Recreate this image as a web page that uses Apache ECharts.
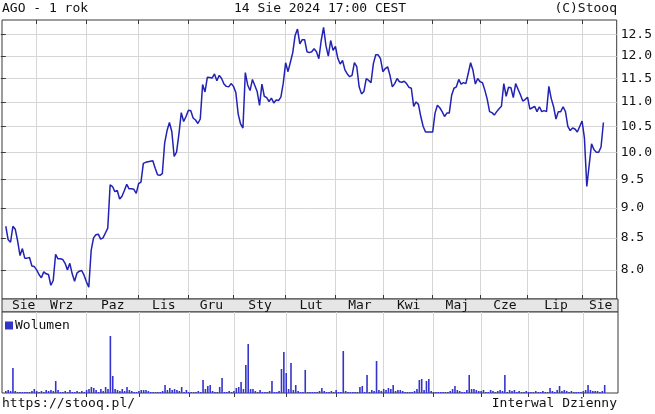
<!DOCTYPE html>
<html>
<head>
<meta charset="utf-8">
<script src="https://cdn.jsdelivr.net/npm/echarts@6/dist/echarts.min.js"></script>
<style>html,body{margin:0;padding:0;background:#fff}#c{width:655px;height:414px}</style>
</head>
<body>
<div id="c"></div>
<script>
// Month boundaries (trading-day index of the first session of each month)
const monthStarts = [13, 34, 56, 77, 96, 118, 139, 159, 180, 200, 220, 243];
const monthNames = ['Sie', 'Wrz', 'Paz', 'Lis', 'Gru', 'Sty', 'Lut', 'Mar', 'Kwi', 'Maj', 'Cze', 'Lip', 'Sie'];
const priceTicks = [8.0, 8.5, 9.0, 9.5, 10.0, 10.5, 11.0, 11.5, 12.0, 12.5];

// Daily close, AGO, 14 Aug 2023 .. 14 Aug 2024
const prices = [
  8.69, 8.47, 8.43, 8.69, 8.64, 8.45, 8.22, 8.33, 8.18, 8.18,
  8.19, 8.06, 8.05, 8.00, 7.93, 7.88, 7.97, 7.94, 7.93, 7.77,
  7.84, 8.24, 8.17, 8.17, 8.16, 8.10, 8.00, 8.10, 7.94, 7.83,
  7.95, 7.98, 7.99, 7.92, 7.82, 7.74, 8.30, 8.50, 8.55, 8.56,
  8.48, 8.50, 8.58, 8.66, 9.40, 9.37, 9.28, 9.30, 9.15, 9.20,
  9.30, 9.41, 9.33, 9.33, 9.32, 9.25, 9.42, 9.45, 9.79, 9.81,
  9.82, 9.83, 9.84, 9.70, 9.58, 9.57, 9.60, 10.18, 10.42, 10.58,
  10.40, 9.92, 10.00, 10.35, 10.78, 10.60, 10.70, 10.83, 10.82, 10.67,
  10.63, 10.56, 10.65, 11.37, 11.21, 11.53, 11.52, 11.51, 11.60, 11.45,
  11.57, 11.50, 11.38, 11.33, 11.32, 11.39, 11.33, 11.20, 10.75, 10.55,
  10.47, 11.63, 11.36, 11.24, 11.48, 11.35, 11.22, 10.93, 11.38, 11.12,
  11.09, 11.01, 11.08, 10.98, 11.04, 11.03, 11.10, 11.40, 11.85, 11.65,
  11.86, 12.08, 12.48, 12.63, 12.28, 12.38, 12.38, 12.10, 12.08, 12.10,
  12.17, 12.10, 11.94, 12.36, 12.67, 12.24, 12.00, 12.36, 12.13, 12.22,
  11.95, 11.82, 11.90, 11.69, 11.60, 11.54, 11.57, 11.85, 11.76, 11.32,
  11.17, 11.22, 11.50, 11.46, 11.41, 11.83, 12.03, 12.03, 11.94, 11.65,
  11.72, 11.76, 11.57, 11.32, 11.39, 11.50, 11.43, 11.42, 11.44, 11.39,
  11.31, 11.29, 10.91, 11.00, 10.95, 10.70, 10.50, 10.39, 10.39, 10.39,
  10.39, 10.77, 10.93, 10.88, 10.80, 10.70, 10.77, 10.77, 11.14, 11.29,
  11.32, 11.48, 11.38, 11.41, 11.39, 11.61, 11.85, 11.68, 11.38, 11.50,
  11.43, 11.41, 11.25, 11.06, 10.80, 10.78, 10.73, 10.80, 10.86, 10.91,
  11.39, 11.12, 11.31, 11.30, 11.09, 11.39, 11.27, 11.15, 11.02, 11.05,
  11.10, 10.85, 10.88, 10.91, 10.80, 10.90, 10.80, 10.82, 10.80, 11.33,
  11.07, 10.90, 10.65, 10.80, 10.80, 10.90, 10.80, 10.50, 10.42, 10.47,
  10.45, 10.39, 10.50, 10.61, 10.27, 9.37, 9.76, 10.16, 10.05, 10.00,
  10.00, 10.10, 10.58
];

// Daily volume (relative units)
const volumes = [
  2, 3, 2, 25, 2, 1, 1, 1, 1, 1,
  1, 2, 4, 2, 1, 2, 1, 3, 2, 3,
  2, 12, 3, 1, 1, 2, 1, 3, 1, 1,
  2, 1, 2, 1, 3, 4, 6, 5, 3, 1,
  4, 2, 6, 4, 57, 17, 4, 3, 2, 4,
  2, 6, 3, 2, 1, 1, 2, 3, 3, 3,
  2, 1, 1, 1, 1, 1, 2, 8, 3, 5,
  3, 4, 3, 2, 6, 1, 3, 1, 1, 1,
  1, 2, 1, 13, 4, 7, 8, 2, 1, 1,
  6, 15, 1, 1, 2, 1, 2, 5, 6, 11,
  4, 28, 49, 4, 4, 2, 1, 3, 1, 1,
  1, 2, 12, 1, 1, 2, 24, 41, 20, 4,
  30, 3, 8, 2, 1, 1, 23, 1, 1, 1,
  1, 1, 2, 5, 2, 1, 1, 2, 1, 3,
  1, 1, 42, 2, 1, 1, 1, 1, 1, 6,
  7, 1, 18, 1, 3, 2, 32, 3, 2, 4,
  3, 5, 4, 8, 2, 3, 3, 2, 1, 1,
  1, 1, 2, 4, 13, 14, 3, 12, 14, 2,
  1, 1, 1, 1, 1, 1, 1, 2, 4, 7,
  3, 2, 1, 1, 3, 18, 4, 4, 3, 2,
  2, 3, 1, 1, 3, 2, 1, 2, 3, 2,
  18, 1, 3, 2, 3, 1, 2, 1, 1, 2,
  1, 1, 1, 2, 1, 1, 2, 1, 1, 5,
  2, 1, 3, 7, 2, 3, 2, 1, 2, 1,
  1, 1, 1, 2, 3, 8, 3, 2, 2, 2,
  1, 2, 8
];

const X_MIN = -1.6, X_MAX = 257.6;
const FIRST_LABEL_FROM = 2; // first full session after the 15 Aug holiday
const monthMids = [];
{
  const b = [FIRST_LABEL_FROM].concat(monthStarts, [X_MAX]);
  for (let k = 0; k < b.length - 1; k++) monthMids.push((b[k] + b[k + 1]) / 2);
}

const FONT = 'DejaVu Sans Mono';
const GRID_COLOR = '#d6d6d6';
const BORDER = '#3a3a3a';

const chart = echarts.init(document.getElementById('c'), null, {renderer: 'canvas'});

function tickAxis(grid, pos, split) {
  return {
    type: 'value', gridIndex: grid, position: pos, min: X_MIN, max: X_MAX,
    axisLine: {show: false},
    axisTick: {show: true, inside: true, length: 4, customValues: monthStarts, lineStyle: {color: BORDER}},
    axisLabel: {show: false},
    splitLine: {show: split, lineStyle: {color: GRID_COLOR, width: 1}}
  };
}

chart.setOption({
  animation: false,
  textStyle: {fontFamily: FONT},
  title: [
    {text: 'AGO - 1 rok', left: 0, top: 2},
    {text: '14 Sie 2024 17:00 CEST', left: 232, top: 2},
    {text: '(C)Stooq', right: 36, top: 2},
    {text: 'https://stooq.pl/', left: 0, top: 397},
    {text: 'Interwal Dzienny', right: 36, top: 397}
  ].map(t => Object.assign({padding: [0, 2], textStyle: {fontFamily: FONT, fontSize: 13, fontWeight: 'normal', color: '#111'}}, t)),
  legend: {
    data: ['Wolumen'], left: 5, top: 319, icon: 'rect', itemWidth: 8, itemHeight: 8, itemGap: 4,
    padding: 0, textStyle: {fontFamily: FONT, fontSize: 13, color: '#111', padding: [0, 0, 0, -3]}
  },
  grid: [
    {left: 2, top: 20, width: 616, height: 279, show: true, borderColor: BORDER, borderWidth: 1, backgroundColor: '#fff'},
    {left: 2, top: 299, width: 616, height: 13, show: true, borderColor: BORDER, borderWidth: 1, backgroundColor: '#e6e6e6'},
    {left: 2, top: 312, width: 616, height: 81, show: true, borderColor: BORDER, borderWidth: 1, backgroundColor: '#fff'}
  ],
  xAxis: [
    tickAxis(0, 'top', true),
    tickAxis(0, 'bottom', false),
    {
      type: 'value', gridIndex: 1, position: 'bottom', min: X_MIN, max: X_MAX,
      axisLine: {show: false}, axisTick: {show: false}, splitLine: {show: false},
      axisLabel: {
        show: true, inside: true, margin: 0, customValues: monthMids,
        fontFamily: FONT, fontSize: 13, color: '#111',
        formatter: v => { const k = monthMids.findIndex(m => Math.abs(m - v) < 1e-6); return k >= 0 ? monthNames[k] : ''; }
      }
    },
    tickAxis(2, 'top', true)
  ],
  yAxis: [
    {
      type: 'log', logBase: 10, gridIndex: 0, position: 'right', min: 7.57, max: 12.85,
      axisLine: {show: false},
      axisTick: {show: true, inside: true, length: 5, customValues: priceTicks, lineStyle: {color: BORDER}},
      axisLabel: {show: true, margin: 4, customValues: priceTicks, fontFamily: FONT, fontSize: 13, color: '#111', formatter: v => Number(v).toFixed(1)},
      splitLine: {show: true, lineStyle: {color: GRID_COLOR, width: 1}}
    },
    {type: 'value', gridIndex: 1, show: false, min: 0, max: 1},
    {type: 'value', gridIndex: 2, show: false, min: 0, max: 81, splitLine: {show: false}}
  ],
  series: [
    {
      name: 'Kurs', type: 'line', xAxisIndex: 0, yAxisIndex: 0,
      data: prices.map((v, i) => [i, v]), showSymbol: false, symbol: 'none',
      lineStyle: {color: '#2222b4', width: 1.5}, itemStyle: {color: '#2222b4'}
    },
    {
      name: 'Wolumen', type: 'bar', xAxisIndex: 3, yAxisIndex: 2,
      data: volumes.map((v, i) => [i, v]), barWidth: 1.6,
      itemStyle: {color: '#3434cc'}
    }
  ]
});
</script>
</body>
</html>
